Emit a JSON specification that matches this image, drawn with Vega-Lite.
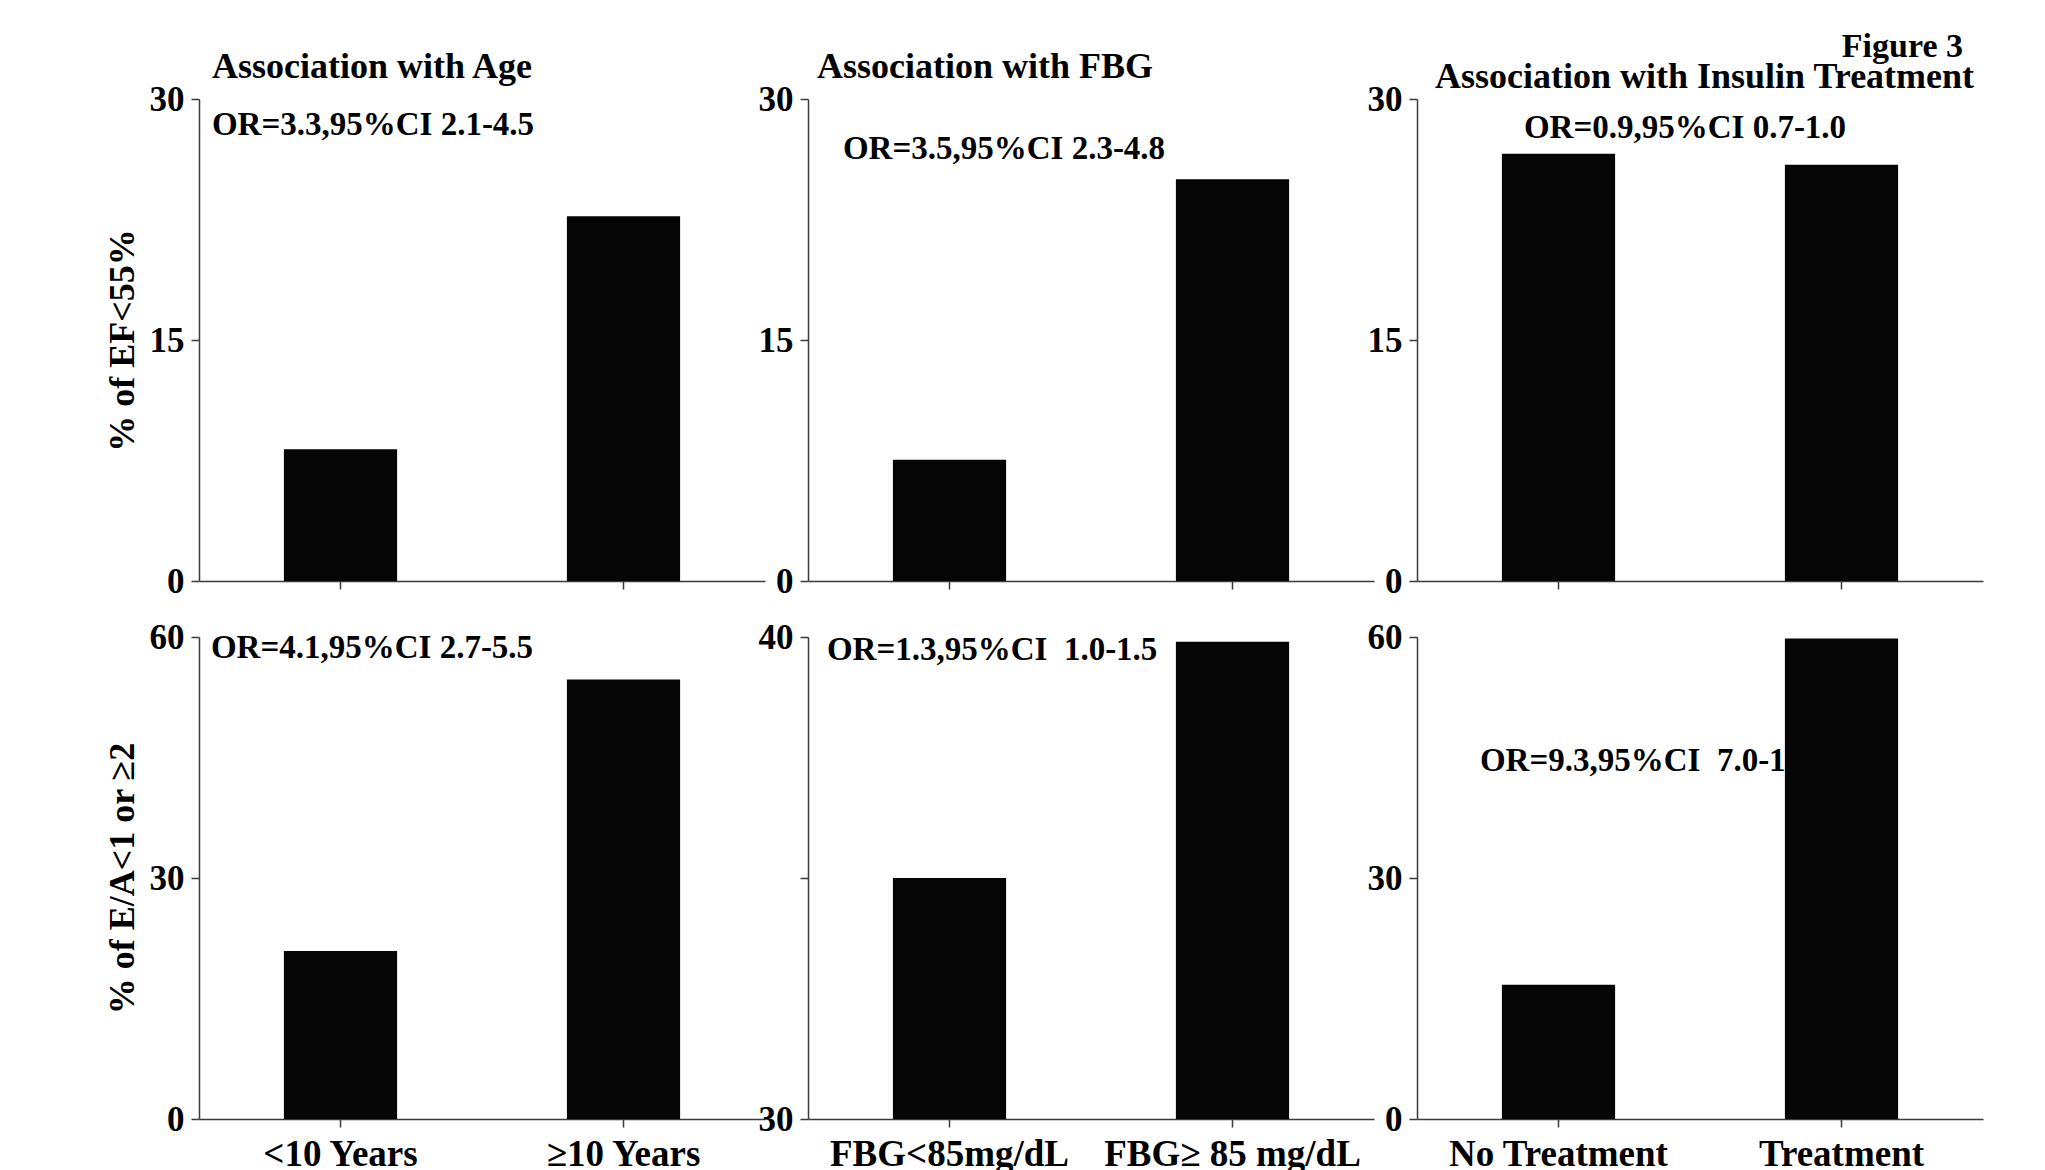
{
  "$schema": "https://vega.github.io/schema/vega-lite/v6.json",
  "background": "white",
  "padding": {"left": 104, "top": 30, "right": 5, "bottom": 5},
  "title": {"text": "Figure 3", "anchor": "end", "dx": -20, "offset": -15, "fontSize": 34, "font": "Liberation Serif", "fontWeight": "bold", "color": "#000"},
  "bounds": "flush",
  "columns": 3,
  "spacing": {"row": 56, "column": 43},
  "concat": [
    {
      "width": 566, "height": 482,
      "title": {"text": "Association with Age", "anchor": "start", "frame": "group", "dx": 13, "offset": -4},
      "layer": [
        {
          "data": {"values": [{"note": "OR=3.3,95%CI 2.1-4.5"}]},
          "mark": {"type": "text", "align": "left", "baseline": "middle", "dx": -72, "fontSize": 33, "fontWeight": "bold", "font": "Liberation Serif", "color": "#000"},
          "encoding": {"x": {"datum": "<10 Years", "bandPosition": 0}, "y": {"datum": 28.4}, "text": {"field": "note"}}
        },
        {
          "data": {"values": [{"group": "<10 Years", "pct": 8.2}, {"group": "≥10 Years", "pct": 22.7}]},
          "mark": {"type": "bar", "color": "#050505"},
          "encoding": {
            "x": {"field": "group", "type": "nominal", "title": null, "scale": {"domain": ["<10 Years", "≥10 Years"], "paddingInner": 0.6, "paddingOuter": 0.3}, "axis": {"labels": false}},
            "y": {"field": "pct", "type": "quantitative", "title": "% of EF<55%", "scale": {"domain": [0, 30]}, "axis": {"values": [0, 15, 30]}}
          }
        }
      ]
    },
    {
      "width": 566, "height": 482,
      "title": {"text": "Association with FBG", "anchor": "start", "frame": "group", "dx": 9, "offset": -4},
      "layer": [
        {
          "data": {"values": [{"note": "OR=3.5,95%CI 2.3-4.8"}]},
          "mark": {"type": "text", "align": "left", "baseline": "middle", "dx": -50, "fontSize": 33, "fontWeight": "bold", "font": "Liberation Serif", "color": "#000"},
          "encoding": {"x": {"datum": "FBG<85mg/dL", "bandPosition": 0}, "y": {"datum": 26.9}, "text": {"field": "note"}}
        },
        {
          "data": {"values": [{"group": "FBG<85mg/dL", "pct": 7.55}, {"group": "FBG≥ 85 mg/dL", "pct": 25.0}]},
          "mark": {"type": "bar", "color": "#050505"},
          "encoding": {
            "x": {"field": "group", "type": "nominal", "title": null, "scale": {"domain": ["FBG<85mg/dL", "FBG≥ 85 mg/dL"], "paddingInner": 0.6, "paddingOuter": 0.3}, "axis": {"labels": false}},
            "y": {"field": "pct", "type": "quantitative", "title": null, "scale": {"domain": [0, 30]}, "axis": {"values": [0, 15, 30]}}
          }
        }
      ]
    },
    {
      "width": 566, "height": 482,
      "title": {"text": "Association with Insulin Treatment", "anchor": "start", "frame": "group", "dx": 18, "offset": -14},
      "layer": [
        {
          "data": {"values": [{"note": "OR=0.9,95%CI 0.7-1.0"}]},
          "mark": {"type": "text", "align": "left", "baseline": "middle", "dx": 22, "fontSize": 33, "fontWeight": "bold", "font": "Liberation Serif", "color": "#000"},
          "encoding": {"x": {"datum": "No Treatment", "bandPosition": 0}, "y": {"datum": 28.2}, "text": {"field": "note"}}
        },
        {
          "data": {"values": [{"group": "No Treatment", "pct": 26.6}, {"group": "Treatment", "pct": 25.9}]},
          "mark": {"type": "bar", "color": "#050505"},
          "encoding": {
            "x": {"field": "group", "type": "nominal", "title": null, "scale": {"domain": ["No Treatment", "Treatment"], "paddingInner": 0.6, "paddingOuter": 0.3}, "axis": {"labels": false}},
            "y": {"field": "pct", "type": "quantitative", "title": null, "scale": {"domain": [0, 30]}, "axis": {"values": [0, 15, 30]}}
          }
        }
      ]
    },
    {
      "width": 566, "height": 482,
      "layer": [
        {
          "data": {"values": [{"note": "OR=4.1,95%CI 2.7-5.5"}]},
          "mark": {"type": "text", "align": "left", "baseline": "middle", "dx": -73, "fontSize": 33, "fontWeight": "bold", "font": "Liberation Serif", "color": "#000"},
          "encoding": {"x": {"datum": "<10 Years", "bandPosition": 0}, "y": {"datum": 58.6}, "text": {"field": "note"}}
        },
        {
          "data": {"values": [{"group": "<10 Years", "pct": 20.9}, {"group": "≥10 Years", "pct": 54.7}]},
          "mark": {"type": "bar", "color": "#050505"},
          "encoding": {
            "x": {"field": "group", "type": "nominal", "title": null, "scale": {"domain": ["<10 Years", "≥10 Years"], "paddingInner": 0.6, "paddingOuter": 0.3}},
            "y": {"field": "pct", "type": "quantitative", "title": "% of E/A<1 or ≥2", "scale": {"domain": [0, 60]}, "axis": {"values": [0, 30, 60]}}
          }
        }
      ]
    },
    {
      "width": 566, "height": 482,
      "layer": [
        {
          "data": {"values": [{"note": "OR=1.3,95%CI \u00a01.0-1.5"}]},
          "mark": {"type": "text", "align": "left", "baseline": "middle", "dx": -66, "fontSize": 33, "fontWeight": "bold", "font": "Liberation Serif", "color": "#000"},
          "encoding": {"x": {"datum": "FBG<85mg/dL", "bandPosition": 0}, "y": {"datum": 39.74}, "text": {"field": "note"}}
        },
        {
          "data": {"values": [{"group": "FBG<85mg/dL", "pct": 35.0}, {"group": "FBG≥ 85 mg/dL", "pct": 39.9}]},
          "mark": {"type": "bar", "color": "#050505"},
          "encoding": {
            "x": {"field": "group", "type": "nominal", "title": null, "scale": {"domain": ["FBG<85mg/dL", "FBG≥ 85 mg/dL"], "paddingInner": 0.6, "paddingOuter": 0.3}},
            "y": {"field": "pct", "type": "quantitative", "title": null, "scale": {"domain": [30, 40], "zero": false}, "axis": {"values": [30, 35, 40], "labelExpr": "datum.value == 35 ? '' : datum.label"}},
            "y2": {"datum": 30}
          }
        }
      ]
    },
    {
      "width": 566, "height": 482,
      "layer": [
        {
          "data": {"values": [{"note": "OR=9.3,95%CI \u00a07.0-11.6"}]},
          "mark": {"type": "text", "align": "left", "baseline": "middle", "dx": -22, "fontSize": 33, "fontWeight": "bold", "font": "Liberation Serif", "color": "#000"},
          "encoding": {"x": {"datum": "No Treatment", "bandPosition": 0}, "y": {"datum": 44.6}, "text": {"field": "note"}}
        },
        {
          "data": {"values": [{"group": "No Treatment", "pct": 16.7}, {"group": "Treatment", "pct": 59.8}]},
          "mark": {"type": "bar", "color": "#050505"},
          "encoding": {
            "x": {"field": "group", "type": "nominal", "title": null, "scale": {"domain": ["No Treatment", "Treatment"], "paddingInner": 0.6, "paddingOuter": 0.3}},
            "y": {"field": "pct", "type": "quantitative", "title": null, "scale": {"domain": [0, 60]}, "axis": {"values": [0, 30, 60]}}
          }
        }
      ]
    }
  ],
  "config": {
    "font": "Liberation Serif",
    "view": {"stroke": null},
    "title": {"font": "Liberation Serif", "fontSize": 36, "fontWeight": "bold", "color": "#000", "offset": 10},
    "axis": {
      "grid": false,
      "domainColor": "#3a3a3a", "domainWidth": 1.5,
      "tickColor": "#3a3a3a", "tickWidth": 1.5, "tickSize": 8,
      "labelFont": "Liberation Serif", "labelFontSize": 35, "labelFontWeight": "bold", "labelColor": "#000", "labelLimit": 0,
      "titleFont": "Liberation Serif", "titleFontSize": 36, "titleFontWeight": "bold", "titleColor": "#000"
    },
    "axisX": {"labelAngle": 0, "labelPadding": 9, "labelFontSize": 37},
    "axisY": {"labelPadding": 7, "titlePadding": 8}
  }
}
